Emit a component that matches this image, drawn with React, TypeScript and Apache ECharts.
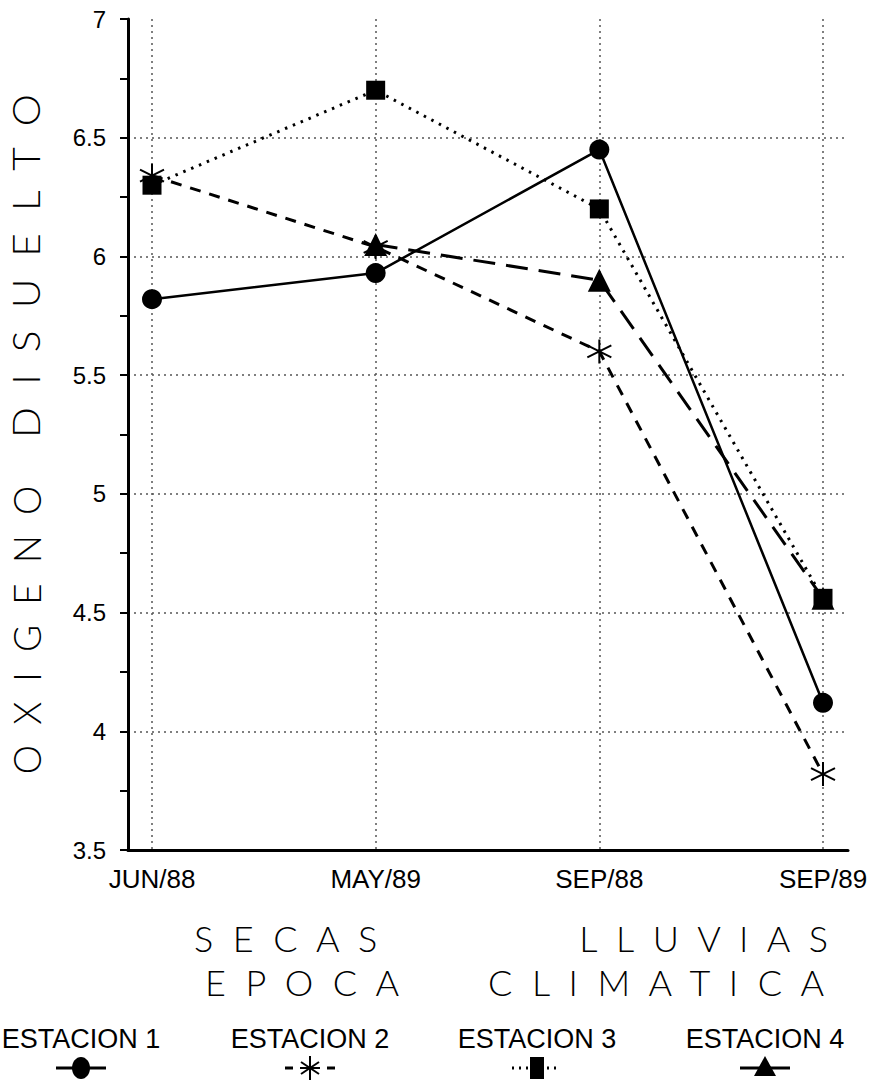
import React, { useEffect, useRef } from "react";
import * as echarts from "echarts";

const categories = ["JUN/88", "MAY/89", "SEP/88", "SEP/89"];
const estacion1 = [5.82, 5.93, 6.45, 4.12];
const estacion2 = [6.34, 6.04, 5.6, 3.82];
const estacion3 = [6.3, 6.7, 6.2, 4.56];
const estacion4 = [null, 6.05, 5.9, 4.56];
const seriesNames = ["ESTACION 1", "ESTACION 2", "ESTACION 3", "ESTACION 4"];
const yMin = 3.5;
const yMax = 7;
const yStep = 0.5;
const yTitleWords = ["O  X  I  G  E  N  O", "D  I  S  U  E  L  T  O"];
const epocaLine1 = ["S  E  C  A  S", "L  L  U  V  I  A  S"];
const epocaLine2 = ["E  P  O  C  A", "C  L  I  M  A  T  I  C  A"];

const LABEL_FONT = "'Liberation Sans', Arial, sans-serif";
const THIN_FONT = "Lato, 'Open Sans', sans-serif";

const ASTERISK = "path://M10,0 L10,20 M1.34,5 L18.66,15 M1.34,15 L18.66,5";

export default function App() {
  const ref = useRef<HTMLDivElement>(null);
  useEffect(() => {
    if (!ref.current) return;
    const chart = echarts.init(ref.current, null, { renderer: "svg" });

    const legendX = [81, 310, 537, 765];
    const textY = 1039;
    const ly = 1068;
    const legendGraphics: any[] = [];
    legendX.forEach((cx, i) => {
      legendGraphics.push({
        type: "text",
        x: cx,
        y: textY,
        style: {
          text: seriesNames[i],
          fill: "#000",
          font: `27px ${LABEL_FONT}`,
          align: "center",
          verticalAlign: "middle",
        },
      });
      if (i === 0 || i === 3) {
        legendGraphics.push({
          type: "line",
          shape: { x1: cx - 25, y1: ly, x2: cx + 25, y2: ly },
          style: { stroke: "#000", lineWidth: 3 },
        });
      } else if (i === 1) {
        legendGraphics.push(
          { type: "line", shape: { x1: cx - 25, y1: ly, x2: cx - 17, y2: ly }, style: { stroke: "#000", lineWidth: 3 } },
          { type: "line", shape: { x1: cx + 17, y1: ly, x2: cx + 25, y2: ly }, style: { stroke: "#000", lineWidth: 3 } },
          { type: "line", shape: { x1: cx - 10, y1: ly, x2: cx + 10, y2: ly }, style: { stroke: "#000", lineWidth: 2 } }
        );
      } else {
        legendGraphics.push({
          type: "line",
          shape: { x1: cx - 25, y1: ly, x2: cx + 22, y2: ly },
          style: { stroke: "#000", lineWidth: 3, lineDash: [2, 5] },
        });
      }
      if (i === 0) {
        legendGraphics.push({
          type: "ellipse",
          shape: { cx, cy: ly, rx: 9, ry: 11 },
          style: { fill: "#000" },
        });
      } else if (i === 1) {
        legendGraphics.push(
          { type: "line", shape: { x1: cx, y1: ly - 12, x2: cx, y2: ly + 12 }, style: { stroke: "#000", lineWidth: 2 } },
          { type: "line", shape: { x1: cx - 9, y1: ly - 6, x2: cx + 9, y2: ly + 6 }, style: { stroke: "#000", lineWidth: 2 } },
          { type: "line", shape: { x1: cx - 9, y1: ly + 6, x2: cx + 9, y2: ly - 6 }, style: { stroke: "#000", lineWidth: 2 } }
        );
      } else if (i === 2) {
        legendGraphics.push({
          type: "rect",
          shape: { x: cx - 7, y: ly - 11, width: 14, height: 22 },
          style: { fill: "#000" },
        });
      } else {
        legendGraphics.push({
          type: "polygon",
          shape: { points: [[cx, ly - 12], [cx - 11, ly + 8], [cx + 11, ly + 8]] },
          style: { fill: "#000" },
        });
      }
    });

    const thin = (size: number) => `300 ${size}px ${THIN_FONT}`;

    const option: any = {
      animation: false,
      backgroundColor: "#fff",
      grid: [
        { left: 152, right: 49, top: 19, bottom: 232 },
        { left: 128, right: 24, top: 19, bottom: 232 },
      ],
      xAxis: [
        {
          type: "category",
          gridIndex: 0,
          data: categories,
          boundaryGap: false,
          axisLine: { show: false },
          axisTick: { show: false },
          axisLabel: {
            color: "#000",
            fontSize: 26,
            fontFamily: LABEL_FONT,
            margin: 16,
          },
          splitLine: {
            show: true,
            lineStyle: { color: "#555", type: [2, 4], width: 1.5 },
          },
        },
        {
          type: "value",
          gridIndex: 1,
          min: 0,
          max: 1,
          axisLine: { show: true, lineStyle: { color: "#000", width: 3 } },
          axisTick: { show: false },
          axisLabel: { show: false },
          splitLine: { show: false },
        },
      ],
      yAxis: [
        {
          type: "value",
          gridIndex: 0,
          min: yMin,
          max: yMax,
          show: false,
          splitLine: { show: false },
        },
        {
          type: "value",
          gridIndex: 1,
          min: yMin,
          max: yMax,
          interval: yStep,
          axisLine: { show: true, lineStyle: { color: "#000", width: 3 } },
          axisTick: { show: true, length: 8, lineStyle: { color: "#000", width: 2 } },
          minorTick: { show: true, splitNumber: 2, length: 8, lineStyle: { color: "#000", width: 2 } },
          axisLabel: {
            color: "#000",
            fontSize: 24,
            fontFamily: LABEL_FONT,
            margin: 22,
            formatter: (v: number) => String(v),
          },
          splitLine: {
            show: true,
            showMinLine: false,
            showMaxLine: false,
            lineStyle: { color: "#555", type: [2, 4], width: 1.5 },
          },
        },
      ],
      series: [
        {
          name: seriesNames[0],
          type: "line",
          xAxisIndex: 0,
          yAxisIndex: 0,
          data: estacion1,
          symbol: "circle",
          symbolSize: 20,
          lineStyle: { color: "#000", width: 2.5, type: "solid" },
          itemStyle: { color: "#000" },
          z: 5,
        },
        {
          name: seriesNames[1],
          type: "line",
          xAxisIndex: 0,
          yAxisIndex: 0,
          data: estacion2,
          symbol: ASTERISK,
          symbolSize: 24,
          lineStyle: { color: "#000", width: 3, type: [11, 9] },
          itemStyle: { color: "#000", borderColor: "#000", borderWidth: 2 },
          z: 4,
        },
        {
          name: seriesNames[2],
          type: "line",
          xAxisIndex: 0,
          yAxisIndex: 0,
          data: estacion3,
          symbol: "rect",
          symbolSize: 19,
          lineStyle: { color: "#000", width: 3, type: [2.5, 6] },
          itemStyle: { color: "#000" },
          z: 3,
        },
        {
          name: seriesNames[3],
          type: "line",
          xAxisIndex: 0,
          yAxisIndex: 0,
          data: estacion4,
          symbol: "triangle",
          symbolSize: 23,
          lineStyle: { color: "#000", width: 3, type: [22, 11] },
          itemStyle: { color: "#000" },
          z: 3,
        },
      ],
      graphic: [
        {
          type: "text",
          x: 26,
          y: 630,
          rotation: Math.PI / 2,
          style: {
            text: yTitleWords[0],
            fill: "#000",
            font: thin(37),
            align: "center",
            verticalAlign: "middle",
          },
        },
        {
          type: "text",
          x: 26,
          y: 266,
          rotation: Math.PI / 2,
          scaleX: 1.1,
          style: {
            text: yTitleWords[1],
            fill: "#000",
            font: thin(37),
            align: "center",
            verticalAlign: "middle",
          },
        },
        {
          type: "text",
          x: 194,
          y: 938,
          style: { text: epocaLine1[0], fill: "#000", font: thin(36), align: "left", verticalAlign: "middle" },
        },
        {
          type: "text",
          x: 828,
          y: 938,
          style: { text: epocaLine1[1], fill: "#000", font: thin(36), align: "right", verticalAlign: "middle" },
        },
        {
          type: "text",
          x: 205,
          y: 982,
          style: { text: epocaLine2[0], fill: "#000", font: thin(36), align: "left", verticalAlign: "middle" },
        },
        {
          type: "text",
          x: 824,
          y: 982,
          style: { text: epocaLine2[1], fill: "#000", font: thin(36), align: "right", verticalAlign: "middle" },
        },
        ...legendGraphics,
      ],
    };
    chart.setOption(option);
    return () => chart.dispose();
  }, []);
  return (
    <div
      ref={ref}
      style={{ position: "absolute", left: 0, top: 0, width: 872, height: 1082, background: "#fff" }}
    />
  );
}
